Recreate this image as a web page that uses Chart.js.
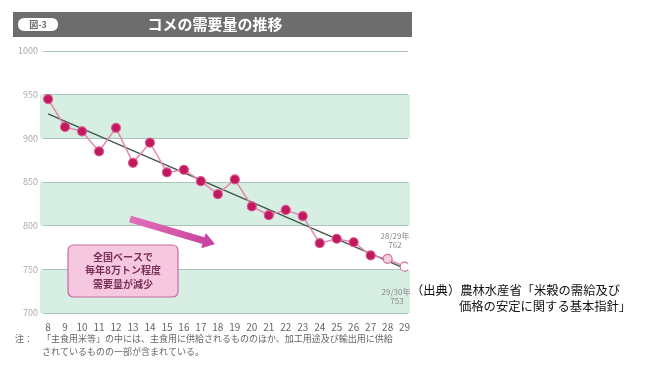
<!DOCTYPE html>
<html><head><meta charset="utf-8">
<script src="https://cdn.jsdelivr.net/npm/chart.js@4/dist/chart.umd.min.js"></script>
<style>html,body{margin:0;padding:0;background:#fff;}canvas{display:block;}</style>
</head><body>
<canvas id="c" width="656" height="365"></canvas>
<script>
const years = [8,9,10,11,12,13,14,15,16,17,18,19,20,21,22,23,24,25,26,27,28,29];
const demand = [945,913,908,885,912,872,895,861,864,851,836,853,822,812,818,811,780,785,781,766,762,753];
const trendYears = [8,29];
const trendValues = [928,751];
const yTicks = [700,750,800,850,900,950,1000];
const bands = [[900,950],[800,850],[700,750]];
const title = 'コメの需要量の推移';
const figNo = '図-3';
const noteLines = ['注：','「主食用米等」の中には、主食用に供給されるもののほか、加工用途及び輸出用に供給','されているものの一部が含まれている。'];
const calloutLines = ['全国ベースで','毎年8万トン程度','需要量が減少'];
const sourceLines = ['（出典）農林水産省「米穀の需給及び','価格の安定に関する基本指針」'];
const FONT = '"Noto Sans CJK JP", "Noto Sans", sans-serif';

function rr(ctx,x,y,w,h,r){ctx.beginPath();ctx.moveTo(x+r,y);ctx.lineTo(x+w-r,y);ctx.quadraticCurveTo(x+w,y,x+w,y+r);ctx.lineTo(x+w,y+h-r);ctx.quadraticCurveTo(x+w,y+h,x+w-r,y+h);ctx.lineTo(x+r,y+h);ctx.quadraticCurveTo(x,y+h,x,y+h-r);ctx.lineTo(x,y+r);ctx.quadraticCurveTo(x,y,x+r,y);ctx.closePath();}

const deco = {
  id:'deco',
  beforeDraw(chart){
    const {ctx, chartArea:a, scales:{y}} = chart;
    ctx.save();
    ctx.fillStyle='#d7eee3';
    bands.forEach(([lo,hi])=>{const t=y.getPixelForValue(hi), b=y.getPixelForValue(lo); ctx.fillRect(a.left-3,t,a.right-a.left+5,b-t);});
    // header
    ctx.fillStyle='#6d6d6d'; ctx.fillRect(13,12,399,25);
    ctx.fillStyle='#ffffff'; rr(ctx,18,18,40,13,6.5); ctx.fill();
    ctx.fillStyle='#6d6d6d'; ctx.font='bold 9px '+FONT; ctx.textAlign='center'; ctx.textBaseline='middle';
    ctx.fillText(figNo,38,24.5);
    ctx.fillStyle='#ffffff'; ctx.font='bold 15px '+FONT; ctx.fillText(title,215,24.5);
    ctx.restore();
  },
  afterDraw(chart){
    const {ctx} = chart;
    ctx.save();
    // arrow
    const x1=130,y1=219,x2=215,y2=244;
    const ang=Math.atan2(y2-y1,x2-x1);
    ctx.translate(x1,y1); ctx.rotate(ang);
    const L=Math.hypot(x2-x1,y2-y1);
    const g=ctx.createLinearGradient(0,0,L,0); g.addColorStop(0,'#e070b8'); g.addColorStop(1,'#c8409c');
    ctx.fillStyle=g;
    ctx.beginPath(); ctx.moveTo(0,-3.5); ctx.lineTo(L-12,-3.5); ctx.lineTo(L-12,-8); ctx.lineTo(L,0); ctx.lineTo(L-12,8); ctx.lineTo(L-12,3.5); ctx.lineTo(0,3.5); ctx.closePath(); ctx.fill();
    ctx.setTransform(1,0,0,1,0,0);
    // callout
    rr(ctx,68,245,110,52,6); ctx.fillStyle='#f6c8e0'; ctx.fill(); ctx.strokeStyle='#c86aa2'; ctx.lineWidth=1.2; ctx.stroke();
    ctx.fillStyle='#7a3058'; ctx.font='bold 10px '+FONT; ctx.textAlign='center'; ctx.textBaseline='middle';
    calloutLines.forEach((s,i)=>ctx.fillText(s,123,257+i*13.5));
    // point labels
    ctx.fillStyle='#888'; ctx.font='8px '+FONT;
    ctx.fillText('28/29年',395,236); ctx.fillText(String(demand[20]),395,245);
    ctx.fillText('29/30年',396,292); ctx.fillText(String(demand[21]),397,301);
    // note
    ctx.textAlign='left'; ctx.fillStyle='#666'; ctx.font='9px '+FONT;
    ctx.fillText(noteLines[0],15,339);
    ctx.fillText(noteLines[1],42,339,368);
    ctx.fillText(noteLines[2],42,352);
    // source
    ctx.fillStyle='#111'; ctx.font='12.3px '+FONT;
    ctx.fillText(sourceLines[0],411,290);
    ctx.fillText(sourceLines[1],459,306);
    ctx.restore();
  }
};

new Chart(document.getElementById('c'),{
  type:'line',
  data:{datasets:[
    {data:trendYears.map((v,i)=>({x:v,y:trendValues[i]})),borderColor:'#3f5648',borderWidth:1.3,pointRadius:0,order:2},
    {data:years.map((v,i)=>({x:v,y:demand[i]})),borderColor:'#e487b0',borderWidth:1.5,
     pointRadius:4.5,pointBorderWidth:1.2,
     pointBackgroundColor:years.map((v,i)=>i===20?'#f3cfe0':(i===21?'#ffffff':'#c2185e')),
     pointBorderColor:years.map((v,i)=>i>=20?'#d0709c':'#d85a8e'),order:1}
  ]},
  options:{
    responsive:false,animation:false,
    layout:{padding:{left:10,top:51,right:248,bottom:32}},
    plugins:{legend:{display:false},tooltip:{enabled:false}},
    scales:{
      x:{type:'linear',min:7.7,max:29.2,
        afterBuildTicks:s=>{s.ticks=years.map(v=>({value:v}));},
        afterFit:s=>{s.height=20;},
        grid:{display:false,drawTicks:false},border:{display:false},
        ticks:{autoSkip:false,maxRotation:0,color:'#666',font:{size:10,family:FONT},padding:8,callback:v=>String(v)}},
      y:{min:700,max:1000,
        afterBuildTicks:s=>{s.ticks=yTicks.map(v=>({value:v}));},
        afterFit:s=>{s.width=33;},
        grid:{color:'#a9c4b5',lineWidth:1,drawTicks:false},border:{display:false},
        ticks:{color:'#aaa',font:{size:9,family:FONT},padding:5,callback:v=>String(v)}}
    }
  },
  plugins:[deco]
});
</script>
</body></html>
